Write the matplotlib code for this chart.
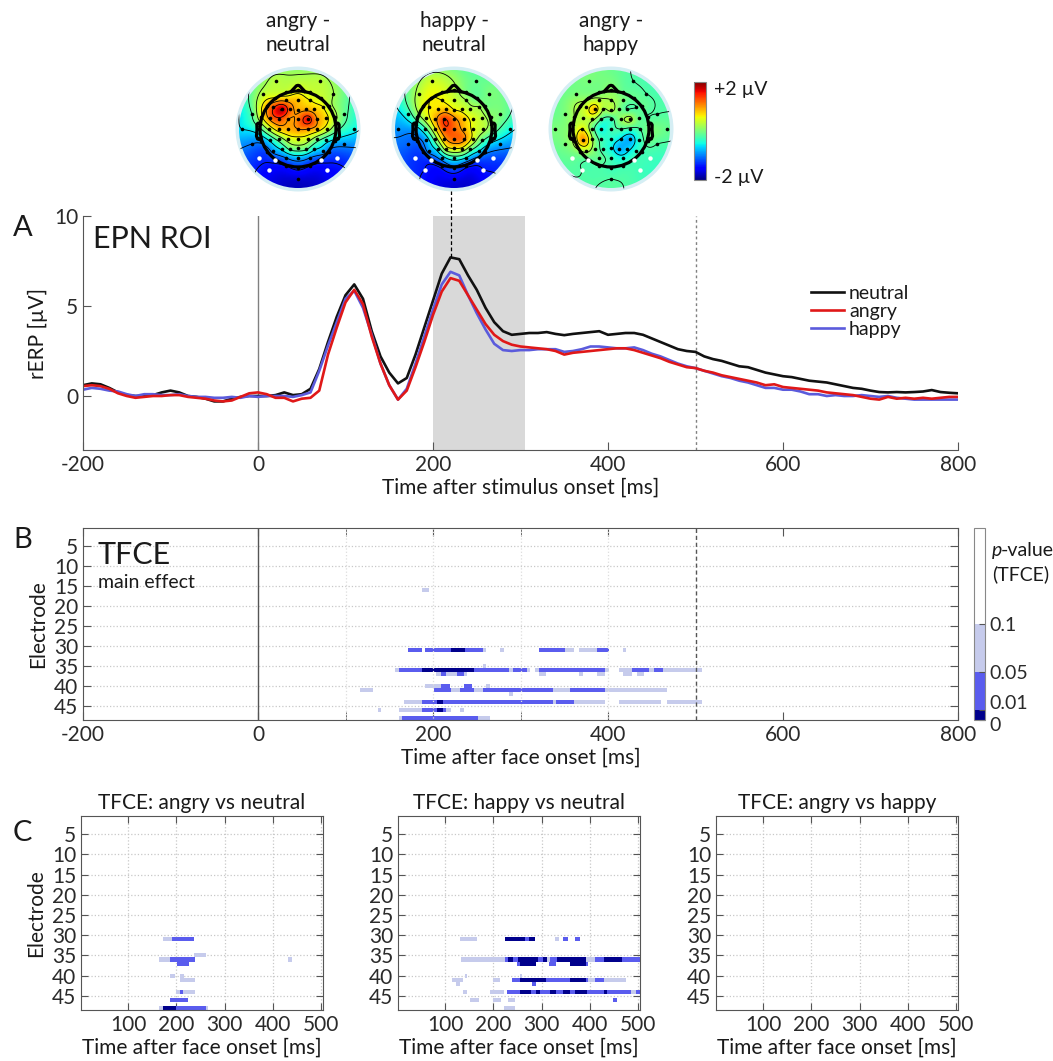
import numpy as np
import matplotlib
matplotlib.use("Agg")
import matplotlib.pyplot as plt
import matplotlib.transforms as mtransforms
from matplotlib.colors import ListedColormap, Normalize
from matplotlib.patches import Circle
from matplotlib.cm import ScalarMappable

plt.rcParams['font.family'] = ['Lato', 'DejaVu Sans']
plt.rcParams['font.weight'] = 'normal'
plt.rcParams['axes.unicode_minus'] = False
plt.rcParams['text.color'] = '#1a1a1a'
plt.rcParams['axes.labelcolor'] = '#1a1a1a'
plt.rcParams['xtick.color'] = '#555555'
plt.rcParams['ytick.color'] = '#555555'
plt.rcParams['xtick.labelcolor'] = '#2a2a2a'
plt.rcParams['ytick.labelcolor'] = '#2a2a2a'
plt.rcParams['xtick.direction'] = 'in'
plt.rcParams['ytick.direction'] = 'in'
plt.rcParams['axes.edgecolor'] = '#555555'
plt.rcParams['xtick.labelsize'] = 15
plt.rcParams['ytick.labelsize'] = 15
plt.rcParams['axes.labelsize'] = 15

# ---------------- ERP data (panel A) ----------------
times = np.arange(-200, 801, 10)
neutral = [0.6, 0.7, 0.65, 0.45, 0.2, 0.05, 0.0, 0.0, 0.05, 0.2,
           0.3, 0.2, 0.0, -0.05, -0.15, -0.3, -0.3, -0.15, -0.05, 0.0,
           0.0, 0.0, 0.05, 0.2, 0.05, 0.1, 0.4, 1.5, 3.0, 4.4,
           5.6, 6.2, 5.4, 3.6, 2.2, 1.3, 0.7, 1.0, 2.3, 3.8,
           5.3, 6.8, 7.7, 7.6, 6.7, 5.9, 4.9, 4.1, 3.6, 3.4,
           3.45, 3.5, 3.5, 3.55, 3.45, 3.38, 3.45, 3.5, 3.55, 3.6,
           3.4, 3.45, 3.5, 3.5, 3.4, 3.2, 3.0, 2.8, 2.6, 2.5,
           2.45, 2.2, 2.05, 1.95, 1.8, 1.65, 1.6, 1.45, 1.3, 1.2,
           1.1, 1.05, 0.95, 0.85, 0.8, 0.75, 0.65, 0.55, 0.45, 0.4,
           0.3, 0.22, 0.2, 0.22, 0.2, 0.22, 0.25, 0.33, 0.22, 0.18,
           0.15]
angry = [0.55, 0.6, 0.55, 0.4, 0.15, 0.0, -0.1, -0.05, 0.0, 0.0,
         0.05, 0.05, -0.05, -0.1, -0.15, -0.25, -0.3, -0.25, -0.05, 0.15,
         0.2, 0.1, -0.1, -0.1, -0.3, -0.15, -0.1, 0.3, 2.3, 3.8,
         5.2, 5.9, 5.1, 3.3, 1.8, 0.6, -0.2, 0.3, 1.6, 3.0,
         4.5, 5.8, 6.55, 6.4, 5.6, 4.8, 4.0, 3.4, 3.05, 2.85,
         2.75, 2.7, 2.65, 2.6, 2.5, 2.3, 2.4, 2.45, 2.5, 2.55,
         2.6, 2.65, 2.65, 2.55, 2.4, 2.25, 2.1, 1.9, 1.75, 1.6,
         1.55, 1.4, 1.3, 1.15, 1.05, 0.95, 0.85, 0.75, 0.6, 0.65,
         0.5, 0.45, 0.4, 0.35, 0.3, 0.2, 0.15, 0.1, 0.05, -0.05,
         -0.15, -0.2, -0.05, -0.15, -0.1, -0.15, -0.1, -0.15, -0.1, -0.05,
         -0.05]
happy = [0.35, 0.45, 0.4, 0.3, 0.25, 0.1, 0.0, 0.1, 0.1, 0.05,
         0.05, 0.1, 0.0, -0.05, -0.05, -0.1, -0.1, -0.05, -0.1, 0.0,
         -0.05, 0.0, 0.0, 0.0, -0.05, 0.05, 0.2, 1.4, 2.8, 4.1,
         5.4, 5.85, 4.9, 3.4, 1.8, 0.6, -0.2, 0.4, 1.8, 3.3,
         4.8, 6.2, 6.9, 6.7, 5.6, 4.6, 3.7, 2.9, 2.55, 2.5,
         2.55, 2.55, 2.6, 2.6, 2.6, 2.45, 2.5, 2.6, 2.75, 2.75,
         2.7, 2.65, 2.65, 2.7, 2.55, 2.35, 2.2, 2.0, 1.8, 1.65,
         1.55, 1.4, 1.25, 1.1, 1.0, 0.85, 0.75, 0.6, 0.45, 0.45,
         0.35, 0.35, 0.25, 0.1, 0.1, 0.0, 0.05, 0.0, 0.0, 0.05,
         0.0, -0.05, 0.0, -0.1, -0.15, -0.2, -0.2, -0.2, -0.2, -0.2,
         -0.2]
epn_window = (200, 305)

# ---------------- topography data ----------------
elec_names = ['Fp1', 'Fpz', 'Fp2', 'AF7', 'AF3', 'AFz', 'AF4', 'AF8',
              'F7', 'F5', 'F3', 'F1', 'Fz', 'F2', 'F4', 'F6', 'F8',
              'FT7', 'FC5', 'FC3', 'FC1', 'FCz', 'FC2', 'FC4', 'FC6', 'FT8',
              'T7', 'C5', 'C3', 'C1', 'Cz', 'C2', 'C4', 'C6', 'T8',
              'TP7', 'CP5', 'CP3', 'CP1', 'CPz', 'CP2', 'CP4', 'CP6', 'TP8',
              'P7', 'P5', 'P3', 'P1', 'Pz', 'P2', 'P4', 'P6', 'P8',
              'PO7', 'PO3', 'POz', 'PO4', 'PO8', 'O1', 'Oz', 'O2',
              'FT9', 'FT10', 'T9', 'T10', 'TP9', 'TP10', 'P9', 'P10',
              'PO9', 'PO10', 'Iz', 'F9', 'F10', 'AF9', 'AF10']
elec_theta = [-18, 0, 18, -36, -23, 0, 23, 36,
              -54, -49, -39, -22, 0, 22, 39, 49, 54,
              -72, -69, -62, -45, 0, 45, 62, 69, 72,
              -90, -90, -90, -90, 0, 90, 90, 90, 90,
              -108, -111, -118, -135, 180, 135, 118, 111, 108,
              -126, -131, -141, -158, 180, 158, 141, 131, 126,
              -144, -157, 180, 157, 144, -162, 180, 162,
              -72, 72, -90, 90, -108, 108, -126, 126,
              -144, 144, 180, -45, 45, -25, 25]
elec_radius = [.511, .511, .511, .511, .411, .383, .411, .511,
               .511, .44, .333, .28, .256, .28, .333, .44, .511,
               .511, .394, .278, .181, .128, .181, .278, .394, .511,
               .511, .383, .256, .128, 0, .128, .256, .383, .511,
               .511, .394, .278, .181, .128, .181, .278, .394, .511,
               .511, .44, .333, .28, .256, .28, .333, .44, .511,
               .511, .411, .383, .411, .511, .511, .511, .511,
               .64, .64, .74, .74, .64, .64, .64, .64,
               .66, .66, .66, .66, .66, .70, .70]
roi_elecs = ['PO7', 'PO8', 'P9', 'P10', 'PO9', 'PO10']

topo_angry_neutral = [0.4, 0.5, 0.4, 0.6, 0.9, 0.8, 0.6, 0.4,
                      0.9, 1.3, 1.8, 1.2, 0.9, 0.9, 0.8, 0.6, 0.3,
                      0.5, 1.1, 1.3, 1.0, 1.1, 1.6, 1.0, 0.7, 0.3,
                      -0.3, 0.3, 0.8, 0.9, 1.0, 1.0, 0.8, 0.4, -0.1,
                      -0.9, -0.5, 0.0, 0.4, 0.5, 0.4, 0.0, -0.4, -0.7,
                      -1.2, -0.9, -0.5, -0.1, 0.0, -0.1, -0.5, -0.8, -1.1,
                      -1.3, -1.0, -0.8, -1.0, -1.3, -1.4, -1.3, -1.4,
                      -0.2, -0.1, -0.6, -0.5, -1.0, -0.9, -1.3, -1.3,
                      -1.5, -1.5, -1.7, 0.3, 0.2, 0.3, 0.3]
topo_happy_neutral = [0.5, 0.3, 0.0, 0.6, 0.6, 0.4, 0.2, -0.1,
                      0.5, 0.6, 0.7, 0.8, 0.6, 0.5, 0.3, 0.2, 0.0,
                      0.0, 0.4, 0.9, 1.4, 1.1, 0.8, 0.5, 0.3, 0.1,
                      -0.8, -0.3, 0.5, 1.3, 1.2, 0.9, 0.5, 0.3, 0.0,
                      -1.1, -0.8, 0.0, 0.9, 1.2, 1.1, 0.5, -0.1, -0.5,
                      -1.2, -0.9, -0.4, 0.4, 0.6, 0.5, 0.0, -0.6, -0.9,
                      -1.3, -0.8, -0.4, -0.6, -1.2, -1.3, -1.1, -1.3,
                      -0.4, 0.0, -0.9, -0.5, -1.1, -0.8, -1.3, -1.2,
                      -1.4, -1.4, -1.6, 0.3, 0.0, 0.4, -0.1]
topo_angry_happy = [0.0, 0.1, -0.1, 0.1, 0.3, 0.2, 0.0, -0.1,
                    0.3, 0.4, 0.8, 0.2, 0.3, 0.0, -0.2, -0.2, -0.1,
                    0.2, 0.3, 0.3, -0.2, -0.3, 0.1, 0.3, -0.1, -0.2,
                    0.2, 0.6, 0.0, -0.5, -0.3, -0.2, -0.3, -0.2, 0.0,
                    0.3, 1.0, 0.2, -0.3, -0.4, -0.6, -0.8, -0.4, -0.1,
                    0.1, 0.3, 0.0, -0.3, -0.5, -0.8, -0.7, -0.4, -0.3,
                    -0.2, -0.1, -0.3, -0.5, -0.3, -0.2, -0.3, -0.3,
                    0.0, -0.2, 0.0, -0.1, 0.0, -0.2, -0.1, -0.3,
                    -0.2, -0.3, -0.2, 0.0, -0.2, 0.0, -0.2]
topo_titles = ['angry -\nneutral', 'happy -\nneutral', 'angry -\nhappy']

# ---------------- TFCE data (panels B, C) ----------------
# (electrode, start ms, end ms, p-level)
p_of = {'L': 0.08, 'M': 0.03, 'D': 0.005}
segs_main = [
    (16, 188, 196, 'L'),
    (31, 171, 187, 'M'), (31, 192, 221, 'M'), (31, 221, 237, 'D'), (31, 237, 257, 'M'),
    (31, 257, 262, 'L'), (31, 277, 282, 'L'), (31, 322, 352, 'M'), (31, 352, 362, 'L'),
    (31, 367, 388, 'L'), (31, 388, 402, 'M'), (31, 418, 422, 'L'),
    (35, 258, 262, 'L'),
    (36, 157, 162, 'L'), (36, 162, 187, 'M'), (36, 187, 247, 'D'), (36, 247, 287, 'M'),
    (36, 287, 291, 'L'), (36, 291, 307, 'M'), (36, 307, 312, 'L'), (36, 317, 322, 'L'),
    (36, 322, 397, 'M'), (36, 397, 402, 'L'), (36, 413, 428, 'L'), (36, 428, 448, 'M'),
    (36, 448, 453, 'L'), (36, 453, 463, 'M'), (36, 463, 507, 'L'),
    (37, 203, 210, 'L'), (37, 210, 216, 'M'), (37, 216, 228, 'L'), (37, 228, 236, 'M'),
    (37, 236, 240, 'L'), (37, 322, 330, 'L'), (37, 367, 372, 'L'), (37, 388, 397, 'L'),
    (37, 418, 428, 'L'), (37, 433, 442, 'L'),
    (40, 191, 210, 'L'), (40, 210, 220, 'M'), (40, 235, 245, 'M'), (40, 262, 266, 'L'),
    (41, 117, 131, 'L'), (41, 202, 221, 'M'), (41, 221, 232, 'L'), (41, 232, 247, 'M'),
    (41, 247, 257, 'L'), (41, 257, 337, 'M'), (41, 337, 357, 'L'), (41, 357, 397, 'M'),
    (41, 397, 468, 'L'),
    (42, 287, 292, 'L'),
    (44, 167, 187, 'L'), (44, 187, 206, 'M'), (44, 206, 212, 'D'), (44, 212, 337, 'M'),
    (44, 337, 342, 'L'), (44, 342, 362, 'M'), (44, 362, 397, 'L'), (44, 413, 462, 'L'),
    (44, 468, 507, 'L'),
    (46, 138, 141, 'L'), (46, 161, 187, 'L'), (46, 187, 206, 'M'), (46, 206, 212, 'D'),
    (46, 212, 216, 'M'), (46, 216, 221, 'L'), (46, 232, 236, 'L'),
    (48, 161, 166, 'L'), (48, 166, 252, 'M'), (48, 252, 266, 'L'),
]
segs_angry_neutral = [
    (31, 174, 192, 'L'), (31, 192, 237, 'M'),
    (35, 237, 261, 'L'),
    (36, 164, 188, 'L'), (36, 188, 240, 'M'), (36, 432, 439, 'L'),
    (37, 202, 227, 'M'),
    (40, 188, 197, 'L'), (40, 208, 215, 'L'),
    (41, 208, 240, 'L'),
    (44, 199, 208, 'L'), (44, 208, 213, 'M'), (44, 213, 240, 'L'),
    (46, 188, 223, 'M'),
    (48, 164, 174, 'L'), (48, 174, 199, 'D'), (48, 199, 261, 'M'), (48, 261, 265, 'L'),
]
segs_happy_neutral = [
    (31, 131, 166, 'L'), (31, 224, 266, 'D'), (31, 266, 273, 'M'), (31, 273, 287, 'D'),
    (31, 328, 335, 'L'), (31, 346, 356, 'M'), (31, 370, 380, 'M'),
    (36, 134, 224, 'L'), (36, 224, 231, 'M'), (36, 231, 241, 'D'), (36, 241, 252, 'M'),
    (36, 252, 294, 'D'), (36, 294, 304, 'M'), (36, 304, 311, 'D'), (36, 311, 318, 'L'),
    (36, 318, 332, 'M'), (36, 332, 394, 'D'), (36, 394, 412, 'L'), (36, 412, 429, 'M'),
    (36, 429, 467, 'D'), (36, 467, 505, 'M'),
    (37, 249, 256, 'M'), (37, 256, 290, 'D'), (37, 315, 330, 'M'), (37, 360, 391, 'D'),
    (37, 391, 398, 'M'),
    (40, 141, 145, 'L'), (40, 256, 260, 'L'),
    (41, 114, 138, 'L'), (41, 200, 214, 'L'), (41, 239, 256, 'M'), (41, 256, 310, 'D'),
    (41, 310, 360, 'M'), (41, 360, 391, 'D'), (41, 391, 398, 'M'), (41, 398, 412, 'L'),
    (41, 412, 429, 'M'), (41, 429, 475, 'L'),
    (42, 123, 131, 'L'), (42, 280, 290, 'M'),
    (44, 138, 146, 'L'), (44, 193, 221, 'L'), (44, 229, 256, 'M'), (44, 256, 277, 'D'),
    (44, 277, 290, 'M'), (44, 290, 297, 'D'), (44, 297, 318, 'M'), (44, 318, 329, 'D'),
    (44, 329, 346, 'M'), (44, 346, 360, 'D'), (44, 360, 370, 'M'), (44, 370, 396, 'D'),
    (44, 396, 429, 'M'), (44, 429, 435, 'D'), (44, 435, 485, 'M'), (44, 485, 495, 'L'),
    (44, 495, 505, 'M'),
    (46, 152, 169, 'L'), (46, 200, 216, 'L'), (46, 231, 245, 'L'), (46, 450, 458, 'M'),
    (48, 222, 245, 'L'),
]
segs_angry_happy = []
c_titles = ['TFCE: angry vs neutral', 'TFCE: happy vs neutral', 'TFCE: angry vs happy']

tfce_t = np.arange(2, 512, 2)
n_elec = 48


def tfce_matrix(segs):
    p = np.ones((n_elec, tfce_t.size))
    for e, t0, t1, lev in segs:
        p[e - 1, (tfce_t >= t0) & (tfce_t < t1)] = p_of[lev]
    return np.ma.masked_greater(p, 0.5)


p_dark, p_mid, p_light = '#00008c', '#5a5cee', '#c6cbec'
cmap_p = ListedColormap([p_dark] + [p_mid] * 4 + [p_light] * 5 + ['white'] * 10)
norm_p = Normalize(0, 0.2)
t_edges = np.append(tfce_t - 1, tfce_t[-1] + 1)
e_edges = np.arange(0.5, n_elec + 1, 1)

# ---------------- figure ----------------
W, H = 1053, 1061
fig = plt.figure(figsize=(W / 100, H / 100), dpi=100)


def px_axes(x0, y0, x1, y1):
    return fig.add_axes([x0 / W, 1 - y1 / H, (x1 - x0) / W, (y1 - y0) / H])


def v4_interp(xe, ye, ve, xg, yg):
    d = np.hypot(xe[:, None] - xe[None, :], ye[:, None] - ye[None, :])
    g = np.where(d > 0, d ** 2 * (np.log(np.maximum(d, 1e-12)) - 1), 0)
    w = np.linalg.solve(g, ve)
    dg = np.hypot(xg.ravel()[:, None] - xe[None, :], yg.ravel()[:, None] - ye[None, :])
    gg = np.where(dg > 0, dg ** 2 * (np.log(np.maximum(dg, 1e-12)) - 1), 0)
    return (gg @ w).reshape(xg.shape)


# ---- topographies ----
sc = 1.25  # head radius 0.5 -> 0.625 of plotting disc
th = np.deg2rad(elec_theta)
ex = sc * np.array(elec_radius) * np.sin(th)
ey = sc * np.array(elec_radius) * np.cos(th)
is_roi = np.array([n in roi_elecs for n in elec_names])
gx, gy = np.meshgrid(np.linspace(-1, 1, 161), np.linspace(-1, 1, 161))
ear_x = np.array([.497, .510, .518, .5299, .5419, .54, .547, .532, .510, .489]) * sc
ear_y = np.array([.0555, .0775, .0783, .0746, .0555, -.0055, -.0932, -.1313, -.1384, -.1199]) * sc
nose_x = np.array([.09, .02, 0, -.02, -.09]) * sc
nose_y = np.array([.4954, .57, .575, .57, .4954]) * sc

topo_cx = [298, 454, 611]
topo_cy = 129
for cx, vals, ttl in zip(topo_cx, [topo_angry_neutral, topo_happy_neutral, topo_angry_happy], topo_titles):
    ax = px_axes(cx - 65, topo_cy - 65, cx + 65, topo_cy + 65)
    z = np.clip(v4_interp(ex, ey, np.array(vals, float), gx, gy), -2, 2)
    disc = Circle((0, 0), 1.0, transform=ax.transData)
    im = ax.imshow(z, extent=[-1, 1, -1, 1], origin='lower', cmap='jet', vmin=-2, vmax=2,
                   interpolation='bilinear')
    im.set_clip_path(disc)
    cs = ax.contour(gx, gy, z, levels=np.linspace(-1.8, 1.8, 10), colors='k', linewidths=0.6,
                    negative_linestyles='solid')
    cs.set_clip_path(disc)
    ax.add_patch(Circle((0, 0), 1.0, fill=False, ec='#d5eef4', lw=2.5))
    ax.add_patch(Circle((0, 0), 0.5 * sc, fill=False, ec='k', lw=2.3))
    ax.plot(ear_x, ear_y, 'k', lw=2.3)
    ax.plot(-ear_x, ear_y, 'k', lw=2.3)
    ax.plot(nose_x, nose_y, 'k', lw=2.3)
    ax.plot(ex[~is_roi], ey[~is_roi], 'o', color='k', ms=2.6, mew=0)
    ax.plot(ex[is_roi], ey[is_roi], 'o', color='white', ms=3.2, mew=0)
    ax.set_xlim(-1.07, 1.07)
    ax.set_ylim(-1.07, 1.07)
    ax.set_aspect('equal')
    ax.axis('off')
    fig.text(cx / W, 1 - 33 / H, ttl, ha='center', va='center', fontsize=15, linespacing=1.25)

cax_t = px_axes(694, 82, 706, 180)
cbt = fig.colorbar(ScalarMappable(norm=Normalize(-2, 2), cmap='jet'), cax=cax_t, ticks=[])
cbt.outline.set_edgecolor('#888888')
fig.text(714 / W, 1 - 89 / H, '+2 µV', fontsize=14, va='center')
fig.text(714 / W, 1 - 178 / H, '-2 µV', fontsize=14, va='center')

# ---- panel A ----
axA = px_axes(83, 216, 958, 450)
axA.axvspan(*epn_window, color='#d9d9d9', lw=0)
axA.axvline(0, color='#808080', lw=1)
axA.axvline(500, color='#808080', lw=1, ls=(0, (2, 2)))
axA.plot(times, neutral, color='#111111', lw=1.9, label='neutral')
axA.plot(times, happy, color='#5b5bdc', lw=1.9, label='happy')
axA.plot(times, angry, color='#e01818', lw=1.9, label='angry')
ipk = int(np.argmax(neutral))
axA.plot([times[ipk], times[ipk]], [neutral[ipk], 11.4], color='k', lw=0.9,
         ls=(0, (3, 2)), clip_on=False)
axA.set_xlim(-200, 800)
axA.set_ylim(-3, 10)
axA.set_xticks(range(-200, 801, 200))
axA.set_yticks([0, 5, 10])
axA.tick_params(length=6)
for s in ['top', 'right']:
    axA.spines[s].set_visible(False)
axA.set_xlabel('Time after stimulus onset [ms]', labelpad=2)
axA.set_ylabel('rERP [µV]', labelpad=4)
hd, lb = axA.get_legend_handles_labels()
order = [0, 2, 1]
axA.legend([hd[i] for i in order], [lb[i] for i in order], loc='upper left',
           bbox_to_anchor=((811 - 83) / 875, (450 - 285) / 234), frameon=False, fontsize=14,
           handlelength=1.7, handletextpad=0.25, labelspacing=0.05, borderpad=0, borderaxespad=0)
axA.text(0.011, 0.96, 'EPN ROI', transform=axA.transAxes, fontsize=22, va='top')
fig.text(13 / W, 1 - 228 / H, 'A', fontsize=21, va='center')

# ---- panel B ----
axB = px_axes(83, 528, 958, 720)
axB.pcolormesh(t_edges, e_edges, tfce_matrix(segs_main), cmap=cmap_p, norm=norm_p)
axB.set_xlim(-200, 800)
axB.set_ylim(n_elec + 0.5, 0.5)
axB.set_yticks(range(5, 46, 5))
axB.set_xticks(range(-200, 801, 200))
axB.set_xticks([100, 300], minor=True)
axB.tick_params(which='both', top=True, right=True, length=6)
axB.yaxis.grid(True, ls=':', color='#c8c8c8', lw=0.9)
axB.vlines([100, 200, 300, 400], 0.5, n_elec + 0.5, colors='#dddddd', lw=0.9, linestyles=':')
axB.set_axisbelow(True)
axB.axvline(0, color='#555555', lw=1)
axB.axvline(500, color='#555555', lw=1, ls=(0, (3, 2)))
axB.set_xlabel('Time after face onset [ms]', labelpad=2)
axB.set_ylabel('Electrode', labelpad=4)
axB.text(0.017, 0.93, 'TFCE', transform=axB.transAxes, fontsize=22, va='top')
axB.text(0.017, 0.76, 'main effect', transform=axB.transAxes, fontsize=14, va='top')
fig.text(13 / W, 1 - 540 / H, 'B', fontsize=21, va='center')

cax_p = px_axes(974, 528, 985, 720)
cbp = fig.colorbar(ScalarMappable(norm=norm_p, cmap=cmap_p), cax=cax_p, ticks=[0, 0.01, 0.05, 0.1])
cbp.ax.set_yticklabels(['0', '0.01', '0.05', '0.1'])
cbp.ax.tick_params(labelsize=14, length=4, direction='in')
cbp.outline.set_edgecolor('#888888')
tl = cbp.ax.get_yticklabels()
tl[0].set_transform(tl[0].get_transform() + mtransforms.ScaledTranslation(0, -3 / 72, fig.dpi_scale_trans))
tl[1].set_transform(tl[1].get_transform() + mtransforms.ScaledTranslation(0, 6 / 72, fig.dpi_scale_trans))
fig.text(992 / W, 1 - 556 / H, 'p', fontsize=14, style='italic', va='baseline')
fig.text(1001 / W, 1 - 556 / H, '-value', fontsize=14, va='baseline')
fig.text(992 / W, 1 - 580 / H, '(TFCE)', fontsize=14, va='baseline')

# ---- panel C ----
c_left = [81, 398, 716]
for i, (x0, segs, ttl) in enumerate(zip(c_left, [segs_angry_neutral, segs_happy_neutral, segs_angry_happy], c_titles)):
    ax = px_axes(x0, 816, x0 + 242, 1010)
    ax.pcolormesh(t_edges, e_edges, tfce_matrix(segs), cmap=cmap_p, norm=norm_p)
    ax.set_xlim(2, 504)
    ax.set_ylim(n_elec + 0.5, 0.5)
    ax.set_xticks(range(100, 501, 100))
    ax.set_yticks(range(5, 46, 5))
    ax.tick_params(top=True, right=True, length=5)
    ax.grid(True, ls=':', color='#c8c8c8', lw=0.9)
    ax.set_axisbelow(True)
    ax.set_title(ttl, fontsize=15, pad=5)
    ax.set_xlabel('Time after face onset [ms]', labelpad=2)
    if i == 0:
        ax.set_ylabel('Electrode', labelpad=4)
fig.text(13 / W, 1 - 833 / H, 'C', fontsize=21, va='center')

fig.savefig('out.png', dpi=100)
